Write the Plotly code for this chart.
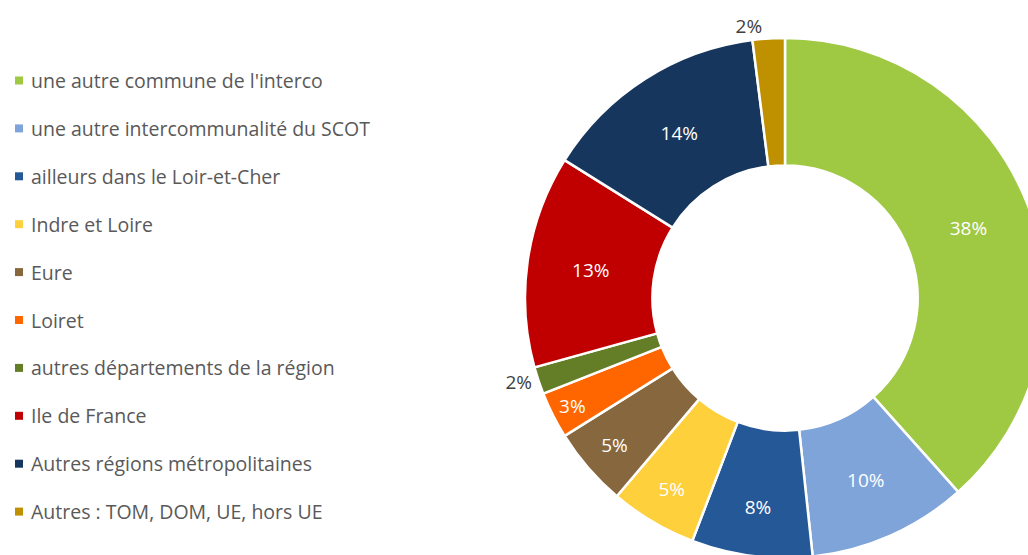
import plotly.graph_objects as go

# Données (en %)
labels = [
    "une autre commune de l'interco",
    "une autre intercommunalité du SCOT",
    "ailleurs dans le Loir-et-Cher",
    "Indre et Loire",
    "Eure",
    "Loiret",
    "autres départements de la région",
    "Ile de France",
    "Autres régions métropolitaines",
    "Autres : TOM, DOM, UE, hors UE",
]
values = [38.4, 9.9, 7.5, 5.4, 4.9, 2.9, 1.7, 13.2, 14.1, 2.0]
colors = [
    "#9FC843", "#7EA4DA", "#255897", "#FDD03C", "#87683E",
    "#FF6600", "#647D27", "#C00000", "#17365D", "#BF9000",
]
text_pos = ["inside"] * 6 + ["outside", "inside", "inside", "outside"]
text_col = ["white"] * 6 + ["#404040", "white", "white", "#404040"]

# la figure déborde un peu de la fenêtre (1028x555) : le donut est coupé à droite / en bas
W, H = 1050, 562
FONT = "'Open Sans', Lato, sans-serif"


def px(x):
    return x / W


def py(y):
    return 1 - y / H


# donut : centre ~(785, 298), rayon ~260 px
cx, cy, r = 785, 298, 260

fig = go.Figure(go.Pie(
    labels=labels,
    values=values,
    marker=dict(colors=colors, line=dict(color="white", width=2.5)),
    hole=0.51,
    sort=False,
    direction="clockwise",
    rotation=0,
    texttemplate="%{percent:.0%}",
    textposition=text_pos,
    insidetextorientation="horizontal",
    textfont=dict(family=FONT, size=19, color=text_col),
    domain=dict(x=[px(cx - r), px(cx + r)], y=[py(cy + r), py(cy - r)]),
    showlegend=False,
    hoverinfo="label+percent",
))

# légende à gauche (carrés + texte)
y0, step = 80.5, 47.9
for i, (lab, col) in enumerate(zip(labels, colors)):
    yc = y0 + i * step
    fig.add_shape(
        type="rect", xref="paper", yref="paper",
        x0=px(15), x1=px(23), y0=py(yc + 4), y1=py(yc - 4),
        fillcolor=col, line=dict(width=0),
    )
    fig.add_annotation(
        x=px(29), y=py(yc), xref="paper", yref="paper",
        text=lab, showarrow=False, xanchor="left", yanchor="middle",
        font=dict(family=FONT, size=19.5, color="#595959"),
    )

fig.update_layout(
    width=W, height=H,
    margin=dict(l=0, r=0, t=0, b=0),
    paper_bgcolor="white",
    plot_bgcolor="white",
    uniformtext=dict(minsize=19, mode="show"),
    font=dict(family=FONT, color="#595959"),
)

fig.write_html(
    "out.html",
    config={"displayModeBar": False},
    post_script="document.body.style.margin='0';document.body.style.overflow='hidden';",
)
